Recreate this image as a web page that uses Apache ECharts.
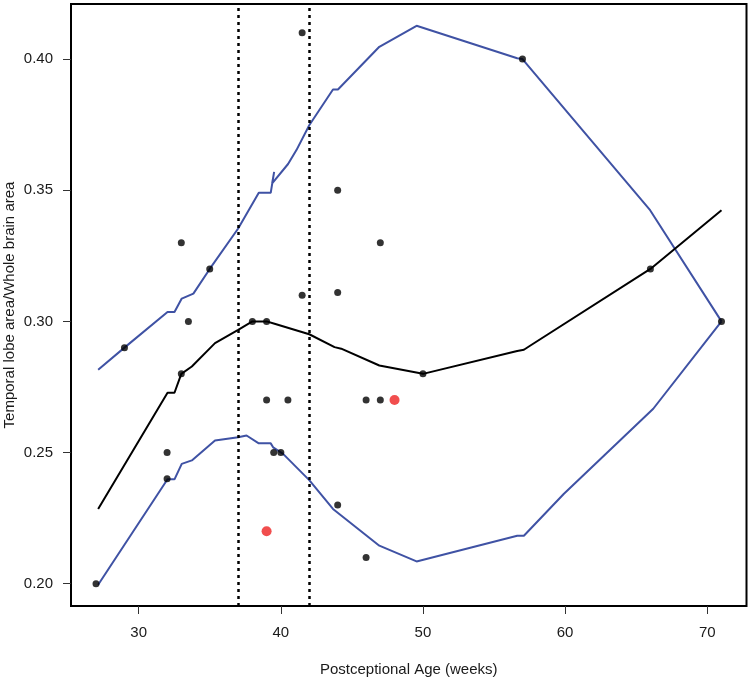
<!DOCTYPE html>
<html>
<head>
<meta charset="utf-8">
<script src="https://cdn.jsdelivr.net/npm/echarts@6/dist/echarts.min.js"></script>
<style>
html,body{margin:0;padding:0;background:#fff;}
#chart{width:750px;height:681px;}
</style>
</head>
<body>
<div id="chart"></div>
<script>
// Observed data points (age in weeks, ratio)
var blackPoints = [
  [27,0.20],[29,0.29],[32,0.25],[32,0.24],[33,0.33],[33,0.28],[33.5,0.30],[35,0.32],
  [38,0.30],[39,0.30],[39,0.27],[39.5,0.25],[40,0.25],[40.5,0.27],[41.5,0.41],[41.5,0.31],
  [44,0.35],[44,0.311],[44,0.23],[46,0.27],[46,0.21],[47,0.33],[47,0.27],[50,0.28],
  [57,0.40],[66,0.32],[71,0.30]
];
var redPoints = [[48,0.27],[39,0.22]];

// Fitted curve (black)
var fitLine = [
  [27.15,0.2285],[32.03,0.2728],[32.52,0.2728],[33,0.28],[33.74,0.2828],[35.37,0.2917],
  [37,0.2968],[38,0.30],[39,0.30],[39.56,0.2991],[42,0.2951],[43.78,0.2902],[44.25,0.2896],
  [46.93,0.2832],[50,0.28],[56.63,0.2887],[57.1,0.2892],[57.56,0.2908],[66,0.32],[71,0.3424]
];
// Upper band (blue)
var upperLine = [
  [27.15,0.2816],[29,0.29],[32.03,0.3036],[32.52,0.3036],[33.03,0.3087],[33.85,0.3106],
  [35,0.32],[37,0.3354],[38.45,0.349],[39.29,0.349],[39.53,0.357],[39.39,0.3526],
  [40.51,0.360],[41.1,0.3653],[42,0.3748],[43.67,0.3884],[44.02,0.3884],[46.93,0.4047],
  [49.55,0.4127],[56.63,0.4003],[57,0.40],[65.98,0.3424],[71,0.30]
];
// Lower band (blue)
var lowerLine = [
  [27.15,0.1996],[32.03,0.2398],[32.52,0.2398],[33.03,0.2457],[33.74,0.247],[35.37,0.2546],
  [37,0.2558],[37.59,0.2565],[38.45,0.2535],[39.29,0.2535],[39.46,0.252],[40.16,0.2495],
  [42,0.2395],[43.67,0.2285],[46.93,0.2145],[49.55,0.2085],[56.63,0.2183],[57.1,0.2183],
  [59.9,0.2342],[66.2,0.2667],[71,0.30]
];
var vLines = [37, 42];
var xTicks = [30, 40, 50, 60, 70];
var yTicks = [0.20, 0.25, 0.30, 0.35, 0.40];

var FONT = "'Liberation Sans', Arial, Helvetica, sans-serif";
var chart = echarts.init(document.getElementById('chart'), null, {renderer:'canvas'});
chart.setOption({
  animation: false,
  backgroundColor: '#fff',
  grid: {left: 71, right: 3.5, top: 4, bottom: 75, containLabel: false, outerBoundsMode: 'none',
    show: true, borderColor: '#000', borderWidth: 2, backgroundColor: 'transparent'},
  xAxis: {
    type: 'value', min: 25.24, max: 72.76,
    name: 'Postceptional Age (weeks)', nameLocation: 'middle', nameGap: 56, nameMoveOverlap: false,
    nameTextStyle: {fontFamily: FONT, fontSize: 15, color: '#1a1a1a'},
    axisLine: {show: false},
    splitLine: {show: false},
    axisTick: {show: true, length: 8, inside: false, customValues: xTicks, lineStyle: {color: '#333', width: 1}},
    axisLabel: {customValues: xTicks, fontFamily: FONT, fontSize: 15, color: '#1a1a1a', margin: 19,
      formatter: function(v){ return String(v); }}
  },
  yAxis: {
    type: 'value', min: 0.1915, max: 0.421,
    name: 'Temporal lobe area/Whole brain area', nameLocation: 'middle', nameGap: 54, nameRotate: 90,
    nameMoveOverlap: false,
    nameTextStyle: {fontFamily: FONT, fontSize: 15, color: '#1a1a1a'},
    axisLine: {show: false},
    splitLine: {show: false},
    axisTick: {show: true, length: 8, inside: false, customValues: yTicks, lineStyle: {color: '#333', width: 1}},
    axisLabel: {customValues: yTicks, fontFamily: FONT, fontSize: 15, color: '#1a1a1a', margin: 18,
      formatter: function(v){ return v.toFixed(2); }}
  },
  series: [
    {
      type: 'line', data: upperLine, symbol: 'none', z: 2,
      lineStyle: {color: '#3f52a4', width: 2},
      markLine: {
        silent: true, symbol: ['none','none'], label: {show: false},
        lineStyle: {color: '#000', width: 2.5, type: [3,4]},
        data: vLines.map(function(v){ return {xAxis: v}; })
      }
    },
    {type: 'line', data: lowerLine, symbol: 'none', z: 2, lineStyle: {color: '#3f52a4', width: 2}},
    {type: 'line', data: fitLine, symbol: 'none', z: 2, lineStyle: {color: '#000', width: 2}},
    {type: 'scatter', data: blackPoints, symbol: 'circle', symbolSize: 7, z: 5, itemStyle: {color: '#000'}},
    {type: 'scatter', data: redPoints, symbol: 'circle', symbolSize: 10, z: 5, itemStyle: {color: '#ee2222'}}
  ]
});
</script>
</body>
</html>
